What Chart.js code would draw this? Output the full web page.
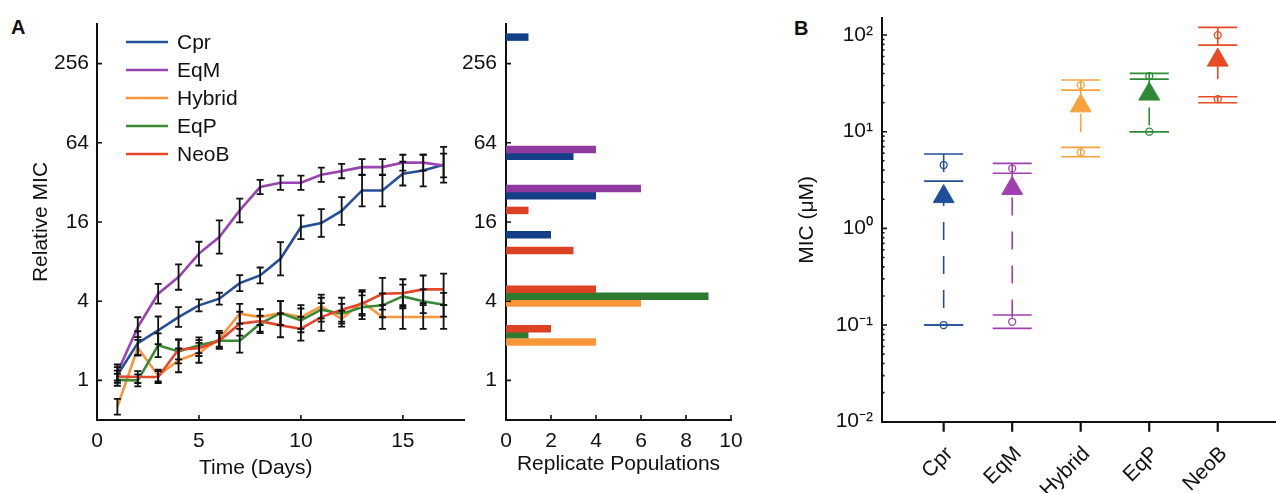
<!DOCTYPE html>
<html><head><meta charset="utf-8">
<script src="https://cdn.jsdelivr.net/npm/chart.js@4.4.1/dist/chart.umd.min.js"></script>
<style>
html,body{margin:0;padding:0;background:#fff;width:1276px;height:493px;overflow:hidden;}
.w{position:absolute;top:0;height:493px;}
.lbl{position:absolute;font:bold 20px 'Liberation Sans',Arial,sans-serif;color:#111;}
.t{position:absolute;font:21px 'Liberation Sans',Arial,sans-serif;color:#111;white-space:nowrap;}
</style></head><body>
<div class="lbl" style="left:11px;top:16px">A</div>
<div class="lbl" style="left:794px;top:17px">B</div>
<div class="w" style="left:0;width:470px"><canvas id="c1"></canvas></div>
<div class="w" style="left:440px;width:330px"><canvas id="c2"></canvas></div>
<div class="w" style="left:780px;width:496px"><canvas id="c3"></canvas></div>
<div class="t" style="left:199px;top:455px">Time (Days)</div>
<script>
// ---------- DATA ----------
const strains = ['Cpr','EqM','Hybrid','EqP','NeoB'];
const days = [1,2,3,4,5,6,7,8,9,10,11,12,13,14,15,16,17];
const cprMIC    = [1.10,1.92,2.40,3.03,3.72,4.18,5.49,6.28,8.40,14.6,15.7,19.4,27.8,27.8,37.3,39.4,43.6];
const eqmMIC    = [1.15,2.54,4.56,6.10,9.20,12.3,19.6,29.5,31.8,31.8,36.6,39.0,41.8,41.8,45.2,45.2,43.0];
const hybridMIC = [0.63,1.77,1.09,1.42,1.62,2.07,3.21,3.03,3.25,3.03,3.65,2.94,3.94,3.03,3.03,3.03,3.03];
const eqpMIC    = [1.01,1.00,1.85,1.66,1.85,2.00,2.00,2.70,3.25,2.86,3.45,3.21,3.60,3.72,4.35,4.00,3.76];
const neobMIC   = [1.07,1.06,1.06,1.72,1.76,2.00,2.70,2.82,2.62,2.47,3.03,3.45,3.83,4.56,4.61,4.92,4.92];
// error bar half-widths (log2 units)
const cprErr    = [0.20,0.30,0.35,0.25,0.15,0.15,0.20,0.20,0.42,0.30,0.35,0.35,0.40,0.40,0.30,0.40,0.45];
const eqmErr    = [0.20,0.25,0.25,0.32,0.30,0.42,0.30,0.18,0.18,0.18,0.18,0.18,0.20,0.20,0.20,0.20,0.30];
const hybridErr = [0.20,0.20,0.15,0.30,0.25,0.20,0.25,0.20,0.30,0.30,0.30,0.20,0.30,0.30,0.30,0.30,0.30];
const eqpErr    = [0.15,0.15,0.30,0.30,0.20,0.20,0.30,0.20,0.30,0.30,0.30,0.25,0.30,0.30,0.30,0.30,0.30];
const neobErr   = [0.15,0.15,0.15,0.25,0.20,0.20,0.30,0.30,0.30,0.30,0.35,0.30,0.30,0.40,0.35,0.35,0.40];
const micTicks = [1,4,16,64,256];
const dayTicks = [0,5,10,15];
const popTicks = [0,2,4,6,8,10];
// replicate populations histogram (bar position = relative MIC, length = count)
const cprBarMIC = [407, 50.6, 25.3, 12.8];   const cprBarN = [1,3,4,2];
const eqmBarMIC = [56.8, 28.7];              const eqmBarN = [4,6];
const hybBarMIC = [3.88, 1.96];              const hybBarN = [6,4];
const eqpBarMIC = [4.37, 2.23];              const eqpBarN = [9,1];
const neoBarMIC = [19.6, 9.73, 4.94, 2.47];  const neoBarN = [1,3,4,2];
// panel B (MIC in µM)
const strainPos  = [1,2,3,4,5];
const medianMIC  = [2.13, 2.59, 18.5, 24.5, 55];
const maxCapHi   = [5.87, 4.70, 34.2, 40.1, 120];
const maxMIC     = [4.52, 4.17, 30.3, 37.6, 99.8];
const maxCapLo   = [3.08, 3.71, 26.9, 35.0, 78.7];
const minCapHi   = [0.100, 0.127, 6.88, 10.0, 23.0];
const minMIC     = [0.100, 0.108, 6.10, 10.0, 21.7];
const minCapLo   = [0.100, 0.0924, 5.50, 10.0, 19.9];
const decadeTicks = [0.01, 0.1, 1, 10, 100];

// ---------- STYLE ----------
const FONT = "'Liberation Sans', Arial, Helvetica, sans-serif";
Chart.defaults.font.family = FONT;
Chart.defaults.font.size = 21;
Chart.defaults.color = '#111';
const lineColors = ['#24509a','#9a44b4','#f7963b','#3a8a35','#e4472a'];
const barColors  = ['#133f88','#8e3a9f','#f7973a','#2e7a2e','#dc4124'];
const bColors    = ['#1f4f99','#a040b0','#f9a23a','#2e8b35','#e84a23'];
const mics = [cprMIC, eqmMIC, hybridMIC, eqpMIC, neobMIC];
const errs = [cprErr, eqmErr, hybridErr, eqpErr, neobErr];
const barMIC = [cprBarMIC, eqmBarMIC, hybBarMIC, eqpBarMIC, neoBarMIC];
const barN = [cprBarN, eqmBarN, hybBarN, eqpBarN, neoBarN];

// ---------- PLUGINS ----------
const errBars = {id:'errBars', afterDatasetsDraw(chart){
  const {ctx, scales:{x,y}} = chart;
  ctx.save(); ctx.strokeStyle='#111'; ctx.lineWidth=1.8;
  chart.data.datasets.forEach(ds=>{
    if(!ds.err) return;
    ds.data.forEach((p,j)=>{
      const f = Math.pow(2, ds.err[j]);
      const px = x.getPixelForValue(p.x);
      const yl = y.getPixelForValue(p.y/f), yh = y.getPixelForValue(p.y*f);
      ctx.beginPath();
      ctx.moveTo(px,yl); ctx.lineTo(px,yh);
      ctx.moveTo(px-3.5,yl); ctx.lineTo(px+3.5,yl);
      ctx.moveTo(px-3.5,yh); ctx.lineTo(px+3.5,yh);
      ctx.stroke();
    });
  });
  ctx.restore();
}};
// tick marks: positive length = inward, negative = outward
const inTicks = {id:'inTicks', afterDraw(chart, args, o){
  const ctx = chart.ctx, ca = chart.chartArea;
  const xs = chart.scales.x, ys = chart.scales.y;
  ctx.save(); ctx.strokeStyle='#111'; ctx.lineWidth=1.6;
  ctx.beginPath();
  if (o.x) xs.ticks.forEach(t=>{const px=xs.getPixelForValue(t.value); ctx.moveTo(px,ca.bottom); ctx.lineTo(px,ca.bottom-o.x);});
  if (o.y) ys.ticks.forEach(t=>{const py=ys.getPixelForValue(t.value); ctx.moveTo(ca.left,py); ctx.lineTo(ca.left+o.y,py);});
  if (o.yMinor) {
    for (let d=-3; d<=3; d++) for (let m=2; m<=9; m++) {
      const v = m*Math.pow(10,d);
      if (v < ys.min || v > ys.max) continue;
      const py = ys.getPixelForValue(v); ctx.moveTo(ca.left,py); ctx.lineTo(ca.left+o.yMinor,py);
    }
  }
  ctx.stroke();
  if (o.xOut) {
    ctx.lineWidth = 2.2; ctx.beginPath();
    xs.ticks.forEach(t=>{const px=xs.getPixelForValue(t.value); ctx.moveTo(px,ca.bottom); ctx.lineTo(px,ca.bottom+o.xOut);});
    ctx.stroke();
  }
  ctx.restore();
}};
const insideLegend = {id:'insideLegend', afterDraw(chart, args, o){
  if (!o.show) return;
  const ctx = chart.ctx; ctx.save();
  ctx.font = '21px ' + FONT; ctx.textBaseline='middle'; ctx.fillStyle='#111';
  chart.data.datasets.forEach((ds,i)=>{
    const y = o.y + i*o.dy;
    ctx.strokeStyle = ds.borderColor; ctx.lineWidth = 2.5;
    ctx.beginPath(); ctx.moveTo(o.x, y); ctx.lineTo(o.x+o.len, y); ctx.stroke();
    ctx.fillText(ds.label, o.x+o.len+o.gap, y+1);
  });
  ctx.restore();
}};
const setTicks = arr => s => { s.ticks = arr.map(v=>({value:v})); };
const noPad = s => { s.paddingTop = 0; s.paddingBottom = 0; s.paddingLeft = 0; s.paddingRight = 0; };
const fitH = h => s => { s.height = h; noPad(s); };
const fitW = w => s => { s.width = w; noPad(s); };
const border = {display:true, color:'#111', width:2};

// ---------- PANEL A: time course ----------
new Chart(document.getElementById('c1'), {
  type:'line',
  data:{datasets: strains.map((s,i)=>({
    label:s, data: days.map((d,j)=>({x:d, y:mics[i][j]})), err: errs[i],
    borderColor: lineColors[i], borderWidth:2.6, pointRadius:0, tension:0, fill:false, order:4-i
  }))},
  options:{
    responsive:true, maintainAspectRatio:false, animation:false,
    layout:{autoPadding:false, padding:{top:24, right:6, left:0, bottom:0}},
    plugins:{legend:{display:false}, tooltip:{enabled:false},
      inTicks:{x:5, y:5}, insideLegend:{show:true, x:126, y:42, dy:28, len:42, gap:9}},
    scales:{
      x:{type:'linear', min:0, max:18, afterBuildTicks:setTicks(dayTicks),
         grid:{display:false, drawTicks:false}, border,
         ticks:{padding:9, maxRotation:0, callback:v=>String(v)},
         afterFit:fitH(493-420)},
      y:{type:'logarithmic', min:0.5, max:512, afterBuildTicks:setTicks(micTicks),
         grid:{display:false, drawTicks:false}, border,
         ticks:{padding:8, callback:v=>String(v)},
         title:{display:true, text:'Relative MIC', padding:{top:29, bottom:0}},
         afterFit:fitW(97)}
    }
  },
  plugins:[errBars, inTicks, insideLegend]
});

// ---------- PANEL A: replicate populations ----------
new Chart(document.getElementById('c2'), {
  type:'bar',
  data:{datasets: strains.map((s,i)=>({
    label:s, data: barMIC[i].map((m,j)=>({x:barN[i][j], y:m})),
    backgroundColor: barColors[i], borderWidth:0, grouped:false,
    barPercentage:3, maxBarThickness:7.5, order:4-i
  }))},
  options:{
    indexAxis:'y', responsive:true, maintainAspectRatio:false, animation:false,
    layout:{autoPadding:false, padding:{top:24, right:39, left:0, bottom:0}},
    plugins:{legend:{display:false}, tooltip:{enabled:false}, inTicks:{x:5, y:5}},
    scales:{
      x:{type:'linear', min:0, max:10, afterBuildTicks:setTicks(popTicks),
         grid:{display:false, drawTicks:false}, border,
         ticks:{padding:9, maxRotation:0, callback:v=>String(v)},
         title:{display:true, text:'Replicate Populations', padding:{top:0, bottom:16}},
         afterFit:fitH(493-420)},
      y:{type:'logarithmic', min:0.5, max:512, afterBuildTicks:setTicks(micTicks),
         grid:{display:false, drawTicks:false}, border,
         ticks:{padding:9, callback:v=>String(v)},
         afterFit:fitW(66)}
    }
  },
  plugins:[inTicks]
});

// ---------- PANEL B ----------
const supMap = {'-':'\u207B','0':'\u2070','1':'\u00B9','2':'\u00B2','3':'\u00B3'};
const sup = n => String(n).split('').map(c=>supMap[c]||c).join('');
const bDatasets = [];
strains.forEach((s,i)=>{
  bDatasets.push({type:'line', label:s+' median', data:[{x:strainPos[i], y:medianMIC[i]}],
    showLine:false, pointStyle:'triangle', pointRadius:12, pointBackgroundColor:bColors[i],
    pointBorderColor:bColors[i], pointBorderWidth:1, order:0});
  bDatasets.push({type:'line', label:s+' extremes', data:[{x:strainPos[i], y:maxMIC[i]},{x:strainPos[i], y:minMIC[i]}],
    showLine:false, pointStyle:'circle', pointRadius:3.5, pointBackgroundColor:'rgba(255,255,255,0)',
    pointBorderColor:bColors[i], pointBorderWidth:1.3, order:1});
  bDatasets.push({type:'line', label:s+' CI', data:[maxCapHi[i],maxCapLo[i],minCapHi[i],minCapLo[i]].map(v=>({x:strainPos[i], y:v})),
    showLine:false, pointStyle:'line', pointRadius:19.5, pointBorderColor:bColors[i], pointBorderWidth:1.6, order:2});
  bDatasets.push({type:'line', label:s+' range', data:[{x:strainPos[i], y:maxCapHi[i]},{x:strainPos[i], y:minCapLo[i]}],
    showLine:true, borderColor:bColors[i], borderWidth:1.6, borderDash:[18,16], pointRadius:0, order:3});
});
new Chart(document.getElementById('c3'), {
  type:'scatter',
  data:{datasets:bDatasets},
  options:{
    responsive:true, maintainAspectRatio:false, animation:false,
    layout:{autoPadding:false, padding:{top:18, right:0, left:0, bottom:0}},
    plugins:{legend:{display:false}, tooltip:{enabled:false}, inTicks:{xOut:10, y:5, yMinor:2.5}},
    scales:{
      x:{type:'linear', min:0.1, max:5.85, afterBuildTicks:setTicks(strainPos),
         grid:{display:false, drawTicks:false},
         border,
         ticks:{padding:20, labelOffset:6, minRotation:45, maxRotation:45, callback:v=>strains[v-1]||''},
         afterFit:fitH(493-421.7)},
      y:{type:'logarithmic', min:0.01, max:150, afterBuildTicks:setTicks(decadeTicks),
         grid:{display:false, drawTicks:false}, border,
         ticks:{padding:9, callback:v=>'10'+sup(Math.round(Math.log10(v)))},
         title:{display:true, text:'MIC (\u03BCM)', padding:{top:15, bottom:0}},
         afterFit:fitW(102)}
    }
  },
  plugins:[inTicks]
});
</script>
</body></html>
